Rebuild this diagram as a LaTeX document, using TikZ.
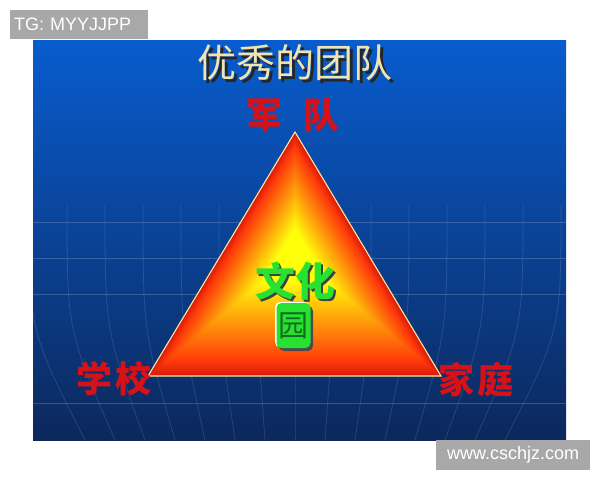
\documentclass[tikz,border=0pt]{standalone}
\usepackage{fontspec}
\setmainfont{Liberation Sans}
\newfontfamily\cjk{Noto Sans CJK SC}
\usetikzlibrary{calc}
\definecolor{labelgray}{RGB}{168,168,168}
\definecolor{slideTop}{RGB}{8,92,206}
\definecolor{slideMid}{RGB}{12,70,162}
\definecolor{slideBot}{RGB}{12,40,92}
\definecolor{titlecream}{RGB}{240,228,178}
\definecolor{armyred}{RGB}{214,18,24}
\definecolor{culturegreen}{RGB}{40,226,50}
\definecolor{darkgreen}{RGB}{20,110,30}
\definecolor{edgecream}{RGB}{255,232,150}
\tikzset{
  labelbox/.style={fill=labelgray, text=white, font=\fontsize{18}{20}\selectfont, inner ysep=0pt},
  gridline/.style={draw=white, opacity=0.18, line width=0.9pt},
  meridian/.style={draw=white, opacity=0.12, line width=0.8pt},
  titletext/.style={font=\cjk\fontsize{39}{40}\selectfont, inner sep=0pt},
  redtext/.style={font=\cjk\bfseries\fontsize{36}{38}\selectfont, inner sep=0pt, text=armyred},
  greentext/.style={font=\cjk\bfseries\fontsize{40}{42}\selectfont, inner sep=0pt},
}
\begin{document}
\begin{tikzpicture}[x=1pt,y=-1pt]
\useasboundingbox (0,0) rectangle (600,480);
\fill[white] (0,0) rectangle (600,480);
% slide background
\shade[top color=slideTop, middle color=slideMid, bottom color=slideBot] (33,40) rectangle (566,440);
\begin{scope}
\clip (33,40) rectangle (566,440);
\foreach \yy in {222,258,294,403} \draw[gridline] (33,\yy) -- (566,\yy);
\foreach \k in {-7,...,7} {
  \pgfmathsetmacro\xt{295+38*\k}
  \pgfmathsetmacro\xb{295+30*\k}
  \draw[meridian] (\xt,205) .. controls (\xt,330) .. (\xb,440);
}
\end{scope}
% triangle with shape gradient
\coordinate (A) at (295,132);
\coordinate (B) at (148,376);
\coordinate (C) at (441,376);
\coordinate (ctr) at (295,255);
\foreach \n in {0,...,70} {
  \pgfmathsetmacro\s{1-\n/70}
  \pgfmathsetmacro\t{\n/70}
  \pgfmathsetmacro\rr{min(1,0.86+1.2*\t)}
  \pgfmathsetmacro\gg{min(1,0.10+1.15*\t)}
  \definecolor{cur}{rgb}{\rr,\gg,0.04}
  \fill[cur] ($(ctr)!\s!(A)$) -- ($(ctr)!\s!(B)$) -- ($(ctr)!\s!(C)$) -- cycle;
}
\draw[edgecream, line width=1.1pt, line join=miter] (A) -- (B) -- (C) -- cycle;
% gray labels
\node[labelbox, anchor=north west, minimum height=29pt, text width=130pt, inner xsep=4pt, align=left] (tg) at (10,10) {TG: MYYJJPP};
\node[labelbox, anchor=north west, minimum height=30pt, minimum width=154pt, inner xsep=4pt] (web) at (436,440) {www.cschjz.com};
% title
\node[titletext, text=black!85] (titleshadow) at (297.5,65.5) {优秀的团队};
\node[titletext, text=titlecream] (title) at (295,63) {优秀的团队};
% corner labels
\node[redtext] (army) at (293,115) {军\hspace{21pt}队};
\node[redtext] (school) at (114,379) {学\hspace{4pt}校};
\node[redtext] (family) at (476,380) {家\hspace{3pt}庭};
% culture text
\node[greentext, text=black!75] (cultureshadow) at (297.5,283.5) {文化};
\node[greentext, text=culturegreen] (culture) at (295,281) {文化};
\fill[black!70, rounded corners=5pt] (279,306) rectangle (313,351);
\fill[white, rounded corners=5pt] (275,302) rectangle (309,347);
\node[fill=culturegreen, rounded corners=5pt, minimum width=34pt, minimum height=45pt, inner sep=0pt, text=darkgreen, font=\cjk\fontsize{30}{32}\selectfont] (garden) at (293.5,325.5) {园};
\end{tikzpicture}
\end{document}
